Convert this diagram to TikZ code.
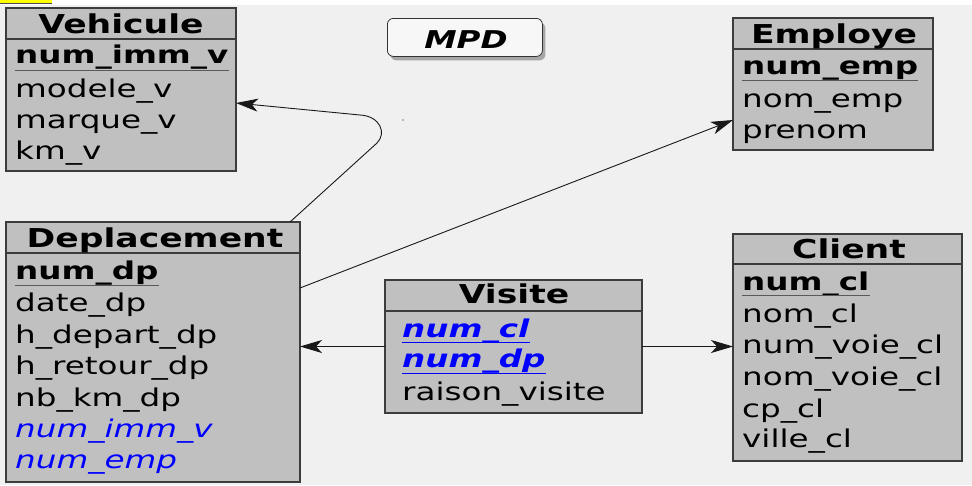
\documentclass[tikz,border=0pt]{standalone}
\usepackage{fontspec}
\setmainfont{DejaVu Sans}[FakeStretch=1.33]
\usetikzlibrary{arrows.meta,shadows}
\definecolor{bg}{HTML}{F0F0F0}
\definecolor{boxfill}{HTML}{C0C0C0}
\definecolor{boxline}{HTML}{3C3C3C}
\definecolor{fkblue}{HTML}{0000FF}
\definecolor{hl}{HTML}{FFFF00}
\begin{document}
\begin{tikzpicture}[x=1pt,y=-1pt,
 tbl/.style={draw=boxline, line width=1.6pt, fill=boxfill, anchor=north west, inner sep=0pt, outer sep=0pt},
 hdr/.style={anchor=base, inner sep=0pt, font=\fontsize{26}{31}\selectfont\bfseries},
 attr/.style={anchor=base west, inner sep=0pt, font=\fontsize{24.5}{29}\selectfont},
 pk/.style={attr, font=\fontsize{24.5}{29}\selectfont\bfseries},
 fk/.style={attr, text=fkblue, font=\fontsize{24.5}{29}\selectfont\itshape},
 pfk/.style={attr, text=fkblue, font=\fontsize{24.5}{29}\selectfont\bfseries\itshape},
 sep/.style={draw=boxline, line width=1.2pt},
 uline/.style={draw=black!65, line width=1pt},
 bline/.style={draw=fkblue, line width=1pt},
 conn/.style={draw=black!90, line width=0.9pt, -{Stealth[length=22pt,width=13pt,inset=6pt]}}
]
\useasboundingbox (0,0) rectangle (972,485);
\fill[bg] (0,0) rectangle (972,485);
\fill[white] (0,0) rectangle (972,5);
\fill[hl] (0,0) rectangle (52,3);
\draw[black!70, line width=0.6pt] (0,3) -- (52,3);

% MPD title
\node[draw=black!80, line width=0.8pt, rounded corners=6pt, fill=white!97!black, anchor=north west,
      minimum width=155pt, minimum height=38pt, inner sep=0pt,
      drop shadow={shadow xshift=3pt, shadow yshift=-4pt, fill=black!35, opacity=1}] (mpd) at (387,18) {};
\node[anchor=base, inner sep=0pt, font=\fontsize{24.5}{29}\selectfont\bfseries\itshape] (mpdT) at (466,48) {MPD};

% Vehicule
\node[tbl, minimum width=230pt, minimum height=163pt] (veh) at (6,8) {};
\draw[sep] ([yshift=-31pt]veh.north west) -- ([yshift=-31pt]veh.north east);
\node[hdr] (vehT) at (121,33) {Vehicule};
\node[pk] (veh1) at (15,63) {num\_imm\_v};
\draw[uline] ([yshift=-7pt]veh1.base west) -- ([yshift=-7pt]veh1.base east);
\node[attr] (veh2) at (15,97) {modele\_v};
\node[attr] (veh3) at (15,128) {marque\_v};
\node[attr] (veh4) at (15,159) {km\_v};

% Employe
\node[tbl, minimum width=200pt, minimum height=132pt] (emp) at (733,18) {};
\draw[sep] ([yshift=-31pt]emp.north west) -- ([yshift=-31pt]emp.north east);
\node[hdr] (empT) at (834,43) {Employe};
\node[pk] (emp1) at (742,74) {num\_emp};
\draw[uline] ([yshift=-6pt]emp1.base west) -- ([yshift=-6pt]emp1.base east);
\node[attr] (emp2) at (742,107) {nom\_emp};
\node[attr] (emp3) at (742,138) {prenom};

% Deplacement
\node[tbl, minimum width=294pt, minimum height=260pt] (dep) at (6,222) {};
\draw[sep] ([yshift=-31pt]dep.north west) -- ([yshift=-31pt]dep.north east);
\node[hdr] (depT) at (155,247) {Deplacement};
\node[pk] (dep1) at (15,279) {num\_dp};
\draw[uline] ([yshift=-6pt]dep1.base west) -- ([yshift=-6pt]dep1.base east);
\node[attr] (dep2) at (15,311) {date\_dp};
\node[attr] (dep3) at (15,343) {h\_depart\_dp};
\node[attr] (dep4) at (15,374) {h\_retour\_dp};
\node[attr] (dep5) at (15,406) {nb\_km\_dp};
\node[fk] (dep6) at (15,437) {num\_imm\_v};
\node[fk] (dep7) at (15,468) {num\_emp};

% Visite
\node[tbl, minimum width=257pt, minimum height=133pt] (vis) at (385,280) {};
\draw[sep] ([yshift=-31pt]vis.north west) -- ([yshift=-31pt]vis.north east);
\node[hdr] (visT) at (514,303) {Visite};
\node[pfk] (vis1) at (402,337) {num\_cl};
\draw[bline] ([yshift=-5pt]vis1.base west) -- ([yshift=-5pt]vis1.base east);
\node[pfk] (vis2) at (402,367) {num\_dp};
\draw[bline] ([yshift=-6pt]vis2.base west) -- ([yshift=-6pt]vis2.base east);
\node[attr] (vis3) at (402,400) {raison\_visite};

% Client
\node[tbl, minimum width=229pt, minimum height=227pt] (cli) at (733,234) {};
\draw[sep] ([yshift=-30pt]cli.north west) -- ([yshift=-30pt]cli.north east);
\node[hdr] (cliT) at (849,258) {Client};
\node[pk] (cli1) at (742,290) {num\_cl};
\draw[uline] ([yshift=-5pt]cli1.base west) -- ([yshift=-5pt]cli1.base east);
\node[attr] (cli2) at (742,322) {nom\_cl};
\node[attr] (cli3) at (742,353) {num\_voie\_cl};
\node[attr] (cli4) at (742,385) {nom\_voie\_cl};
\node[attr] (cli5) at (742,417) {cp\_cl};
\node[attr] (cli6) at (742,447) {ville\_cl};

% connectors
\coordinate (bend1) at (377,143);
\coordinate (bend2) at (360,115);
\draw[conn] ([xshift=-10pt]dep.north east) -- (bend1) .. controls (387,133) and (380,116) .. (bend2) -- ([yshift=-13.5pt]veh.east);
\draw[conn] ([yshift=64pt]dep.east) -- ([yshift=-36pt]emp.west);
\draw[conn] (vis.west) -- (vis.west -| dep.east);
\draw[conn] (vis.east) -- (vis.east -| cli.west);

\fill[black!50] (403,120) circle (0.8);
\end{tikzpicture}
\end{document}
